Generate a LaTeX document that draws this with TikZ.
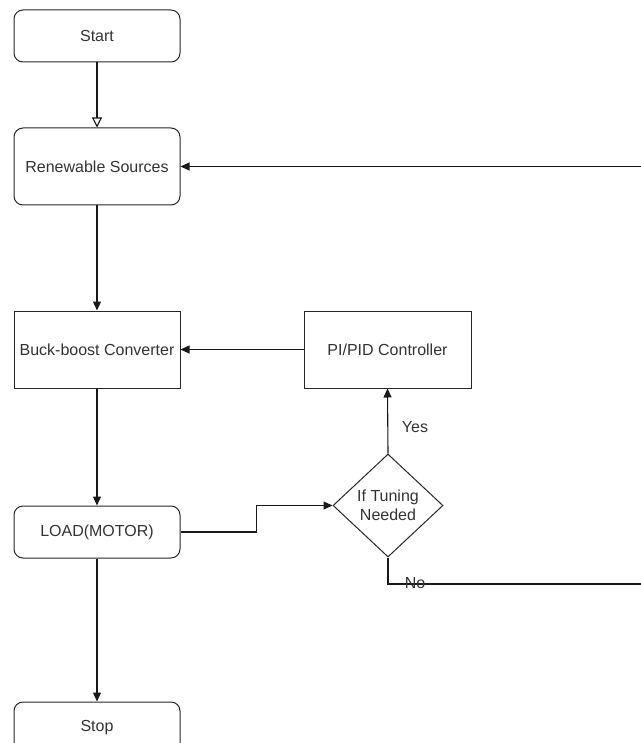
\documentclass[tikz,border=0pt]{standalone}
\usepackage{fontspec}
\setmainfont{Liberation Sans}
\usetikzlibrary{arrows.meta,shapes.geometric}
\definecolor{txt}{HTML}{333333}
\begin{document}
\begin{tikzpicture}[x=1pt,y=-1pt,
  every node/.style={font=\fontsize{16}{19}\selectfont, text=txt},
  rbox/.style={draw=black!85, line width=1pt, rounded corners=9pt, minimum width=166pt, inner sep=0pt},
  sbox/.style={draw=black!85, line width=1pt, minimum width=166pt, minimum height=77pt, inner sep=0pt},
  arr/.style={draw=black!90, line width=1.1pt, -{Triangle[length=9pt,width=8pt]}},
  oarr/.style={draw=black!90, line width=1.1pt, -{Triangle[open,length=10pt,width=10pt]}},
  lbl/.style={fill=none, inner sep=1pt}]
\useasboundingbox (0,0) rectangle (640,743);
\node[rbox, minimum height=52pt] (start) at (97,36) {Start};
\node[rbox, minimum height=77pt] (ren) at (97,166.5) {Renewable Sources};
\node[sbox] (buck) at (97,349.5) {Buck-boost Converter};
\node[sbox, minimum width=167pt] (pi) at (387.5,349.5) {PI/PID Controller};
\node[rbox, minimum height=52pt] (load) at (97,532) {LOAD(MOTOR)};
\node[rbox, minimum height=52pt] (stop) at (97,728) {Stop};
\node[diamond, draw=black!85, line width=1pt, minimum width=110pt, minimum height=103pt, inner sep=0pt] (dec) at (388,505.5) {};
\node[align=center, inner sep=0pt] (dectext) at (388,505.5) {If Tuning\\Needed};
\coordinate (fb) at (660,584);
\draw[oarr] (start) -- (ren);
\draw[arr] (ren) -- (buck);
\draw[arr] (buck) -- (load);
\draw[arr] (load) -- (stop);
\draw[arr] (pi.west) -- (buck.east);
\draw[arr] (load.east) -- ++(76,0) |- (dec.west);
\draw[arr] (dec.north) -- (pi.south);
\draw[arr] (dec.south) |- (fb) |- (ren.east);
\node[lbl] (yes) at (415,427) {Yes};
\node[lbl] (no) at (415,583) {No};
\end{tikzpicture}
\end{document}
